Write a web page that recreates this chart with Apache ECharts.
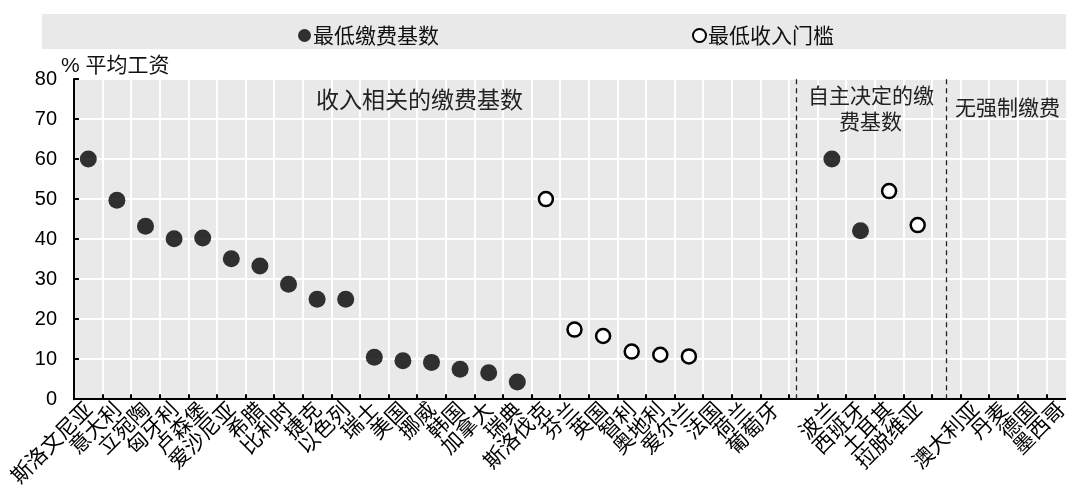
<!DOCTYPE html>
<html>
<head>
<meta charset="utf-8">
<script src="https://cdn.jsdelivr.net/npm/echarts@6/dist/echarts.min.js"></script>
<style>
html,body{margin:0;padding:0;background:#fff;overflow:hidden;width:1066px;height:489px;}
#wrap{width:1066px;height:489px;overflow:hidden;position:relative;}
#chart{width:1090px;height:489px;position:absolute;left:0;top:0;}
</style>
</head>
<body>
<div id="wrap"><div id="chart"></div></div>
<script>
// ---- data ----
var categories = ['斯洛文尼亚','意大利','立宛陶','匈牙利','卢森堡','爱沙尼亚','希腊','比利时','捷克','以色列',
  '瑞士','美国','挪威','韩国','加拿大','瑞典','斯洛伐克','芬兰','英国','智利','奥地利','爱尔兰','法国','荷兰','葡萄牙',
  '', '波兰','西班牙','土耳其','拉脱维亚', '', '澳大利亚','丹麦','德国','墨西哥'];
var minContributionBase = [60,49.7,43.2,40.1,40.3,35.1,33.3,28.7,25,25,
  10.5,9.6,9.2,7.5,6.6,4.3,null,null,null,null,null,null,null,null,null,
  null,60,42.1,null,null,null,null,null,null,null];
var minIncomeThreshold = [null,null,null,null,null,null,null,null,null,null,
  null,null,null,null,null,null,50,17.4,15.8,11.9,11.1,10.7,null,null,null,
  null,null,null,52,43.5,null,null,null,null,null];
var yTicks = [0,10,20,30,40,50,60,70,80];
var dividerPositions = [25.25, 30.5];
var seriesNames = ['最低缴费基数','最低收入门槛'];
var yAxisTitle = '% 平均工资';
var groupLabels = ['收入相关的缴费基数', '自主决定的缴', '费基数', '无强制缴费'];

var latin = "'Liberation Sans Narrow','Arial Narrow','Liberation Sans',Arial,'Noto Sans CJK SC',sans-serif";
var cjk = "'Noto Sans CJK SC',sans-serif";

var chart = echarts.init(document.getElementById('chart'), null, {renderer:'canvas', width:1090, height:489});
var option = {
  animation:false,
  backgroundColor:'#fff',
  graphic:[
    {type:'rect', left:42, top:14, z:-1, shape:{width:1040, height:35}, style:{fill:'#e9e9e9'}},
    {type:'text', z:100, left:61, top:56, style:{text:yAxisTitle, fontSize:21, fontFamily:latin, fill:'#111'}},
    {type:'text', z:100, left:316, top:88, style:{text:groupLabels[0], fontSize:23, fontFamily:cjk, fill:'#222'}},
    {type:'text', z:100, left:808, top:85, style:{text:groupLabels[1], fontSize:21, fontFamily:cjk, fill:'#222'}},
    {type:'text', z:100, left:839, top:111, style:{text:groupLabels[2], fontSize:21, fontFamily:cjk, fill:'#222'}},
    {type:'text', z:100, left:955, top:97, style:{text:groupLabels[3], fontSize:21, fontFamily:cjk, fill:'#222'}}
  ],
  legend:{
    left:293, top:20, itemWidth:13, itemHeight:13, itemGap:253,
    textStyle:{fontSize:21, fontFamily:cjk, color:'#111', padding:[0,0,0,-3]},
    data:[{name:seriesNames[0], icon:'circle'},{name:seriesNames[1], icon:'circle'}]
  },
  grid:{left:74, top:79, width:1001, height:321, show:true, backgroundColor:'#e9e9e9', borderWidth:0, containLabel:false},
  xAxis:[{
    type:'category', data:categories, boundaryGap:true,
    axisLine:{show:true, lineStyle:{color:'#000', width:2}},
    axisTick:{show:true, inside:true, length:5, lineStyle:{color:'#000', width:2}},
    splitLine:{show:true, lineStyle:{color:'#fff', width:2}},
    axisLabel:{rotate:45, interval:0, fontSize:21, fontFamily:cjk, color:'#000', margin:6}
  },{
    type:'value', min:0, max:categories.length, show:false
  }],
  yAxis:{
    type:'value', min:yTicks[0], max:yTicks[yTicks.length-1], interval:10,
    axisLine:{show:true, lineStyle:{color:'#000', width:2}},
    axisTick:{show:true, inside:true, length:5, lineStyle:{color:'#000', width:2}},
    splitLine:{show:true, lineStyle:{color:'#fff', width:2}},
    axisLabel:{fontSize:20, fontFamily:latin, color:'#000', margin:17}
  },
  series:[
    {name:seriesNames[0], type:'scatter', data:minContributionBase, symbol:'circle', symbolSize:17,
     itemStyle:{color:'#000'}, z:5},
    {name:seriesNames[1], type:'scatter', data:minIncomeThreshold, symbol:'circle', symbolSize:14,
     itemStyle:{color:'#fff', borderColor:'#000', borderWidth:2.5, opacity:1}, z:5},
    {name:'dividers', type:'scatter', xAxisIndex:1, data:[], silent:true,
     markLine:{silent:true, symbol:['none','none'], label:{show:false},
       lineStyle:{type:[5,4], color:'#222', width:1.3},
       data:dividerPositions.map(function(p){return {xAxis:p};})}}
  ]
};
chart.setOption(option);
</script>
</body>
</html>
